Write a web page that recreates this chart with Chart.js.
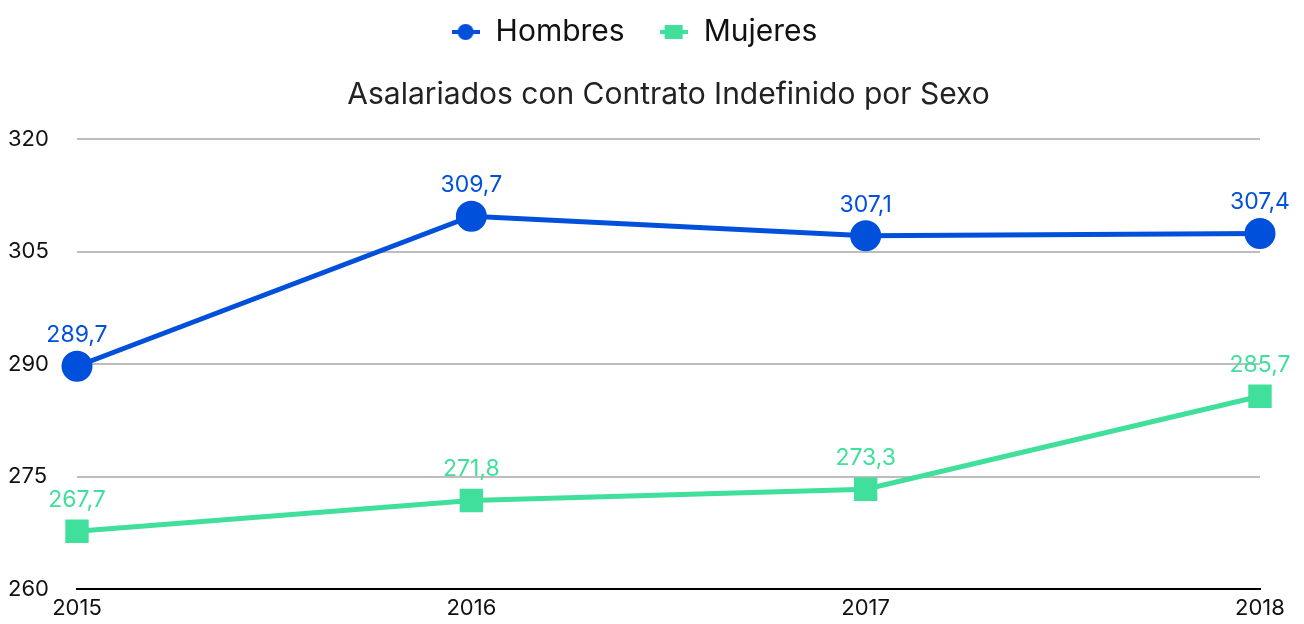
<!DOCTYPE html>
<html>
<head>
<meta charset="utf-8">
<script src="https://cdn.jsdelivr.net/npm/chart.js@4.4.0/dist/chart.umd.min.js"></script>
<style>
  html, body { margin: 0; padding: 0; background: #fff; }
  #wrap { width: 1304px; height: 624px; }
</style>
</head>
<body>
<div id="wrap"><canvas id="canvas1"></canvas></div>
<script>
const years = ["2015", "2016", "2017", "2018"];
const hombres = [289.7, 309.7, 307.1, 307.4];
const mujeres = [267.7, 271.8, 273.3, 285.7];
const yTicks = [260, 275, 290, 305, 320];

const AZUL = '#0050dc';
const VERDE = '#40df9b';
const FONT = 'Inter, "Noto Sans", sans-serif';

// icono de leyenda: linea con marcador
function iconoLeyenda(color, forma) {
    const c = document.createElement('canvas');
    c.width = 28; c.height = 18;
    const g = c.getContext('2d');
    g.fillStyle = color;
    g.fillRect(0, 7, 28, 4);
    if (forma === 'circle') {
        g.beginPath();
        g.arc(14, 9, 8, 0, Math.PI * 2);
        g.fill();
    } else {
        g.fillRect(5, 2, 18, 14);
    }
    return c;
}

// etiquetas de valor encima de cada punto
const etiquetas = {
    id: 'etiquetas',
    afterDatasetsDraw(chart) {
        const ctx = chart.ctx;
        ctx.save();
        ctx.font = '23px ' + FONT;
        ctx.textAlign = 'center';
        ctx.textBaseline = 'middle';
        chart.data.datasets.forEach((ds, i) => {
            const meta = chart.getDatasetMeta(i);
            ctx.fillStyle = ds.borderColor;
            meta.data.forEach((pt, j) => {
                ctx.fillText(ds.data[j].toFixed(1).replace('.', ','), pt.x, pt.y - 31);
            });
        });
        ctx.restore();
    }
};

function ThongKe() {
    const data = {
        labels: years,
        datasets: [
            {
                label: 'Hombres',
                data: hombres,
                borderColor: AZUL,
                backgroundColor: AZUL,
                borderWidth: 5,
                pointStyle: 'circle',
                pointRadius: 13,
                pointHoverRadius: 13,
                tension: 0
            },
            {
                label: 'Mujeres',
                data: mujeres,
                borderColor: VERDE,
                backgroundColor: VERDE,
                borderWidth: 5,
                pointStyle: 'rect',
                pointRadius: 13,
                pointHoverRadius: 13,
                tension: 0
            }
        ]
    };
    const config = {
        type: 'line',
        data: data,
        options: {
            responsive: true,
            maintainAspectRatio: false,
            animation: false,
            layout: { padding: { left: 8, right: 44, top: -17, bottom: 0 } },
            plugins: {
                legend: {
                    position: 'top',
                    weight: 3000,
                    labels: {
                        usePointStyle: true,
                        padding: 34,
                        color: '#111',
                        font: { family: FONT, size: 30 },
                        generateLabels: (chart) => chart.data.datasets.map((ds, i) => ({
                            text: ds.label,
                            fillStyle: ds.backgroundColor,
                            strokeStyle: ds.borderColor,
                            lineWidth: 0,
                            pointStyle: iconoLeyenda(ds.borderColor, ds.pointStyle),
                            fontColor: '#111',
                            hidden: !chart.isDatasetVisible(i),
                            datasetIndex: i
                        }))
                    }
                },
                title: {
                    display: true,
                    weight: 1000,
                    fullSize: false,
                    text: 'Asalariados con Contrato Indefinido por Sexo',
                    color: '#222',
                    font: { family: FONT, size: 30, weight: 'normal' },
                    padding: { top: 20, bottom: 26 }
                },
                tooltip: { enabled: false }
            },
            scales: {
                x: {
                    offset: false,
                    afterFit: (axis) => { axis.height = 35; },
                    grid: { display: false, drawTicks: false },
                    border: { display: true, color: '#000', width: 2 },
                    ticks: {
                        color: '#111',
                        font: { family: FONT, size: 22 },
                        padding: 6,
                        maxRotation: 0,
                        autoSkip: false
                    }
                },
                y: {
                    min: yTicks[0],
                    max: yTicks[yTicks.length - 1],
                    afterBuildTicks: (axis) => { axis.ticks = yTicks.map(v => ({ value: v })); },
                    afterFit: (axis) => { axis.width = 69; },
                    grid: { color: '#bdbdbd', lineWidth: 2, drawTicks: false },
                    border: { display: false },
                    ticks: {
                        color: '#111',
                        crossAlign: 'far',
                        font: { family: FONT, size: 22 },
                        padding: 0
                    }
                }
            }
        },
        plugins: [etiquetas]
    };
    const chart = new Chart(document.getElementById('canvas1'), config);
    window.addEventListener('resize', function () { chart.resize() });
}
ThongKe();
</script>
</body>
</html>
